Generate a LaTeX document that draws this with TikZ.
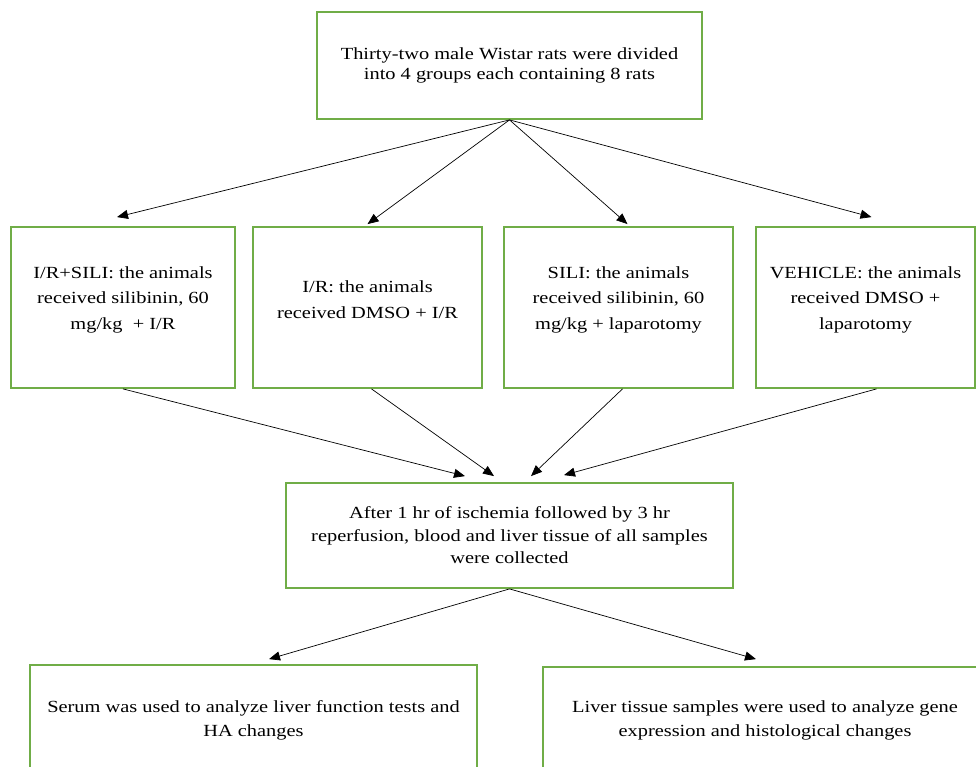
\documentclass[tikz,border=0pt]{standalone}
\usepackage{fontspec}
\setmainfont[FakeStretch=1.2]{Liberation Serif}
\usepackage{xcolor}
\usepackage{tikz}
\usetikzlibrary{arrows.meta}
\definecolor{boxgreen}{HTML}{70AD47}

\begin{document}
\begin{tikzpicture}[x=1pt, y=-1pt,
  box/.style={draw=boxgreen, line width=1.8pt, rectangle, align=center, inner sep=0pt, font=\fontsize{17}{22.5}\selectfont},
  grpbox/.style={box, minimum height=161pt},
  grptext/.style={align=center, inner sep=0pt, yshift=8pt, font=\fontsize{17}{25.5}\selectfont},
  flow/.style={-{Triangle[length=11pt, width=9pt]}, line width=0.7pt}]%
\useasboundingbox (0,0) rectangle (976,767);%
\node[box, minimum width=385pt, minimum height=107pt, font=\fontsize{17}{20}\selectfont] (rats) at (509.5,65.5) {Thirty-two male Wistar rats were divided\\into 4 groups each containing 8 rats};%
\node[grpbox, minimum width=224pt, label={[grptext]center:{I/R+SILI: the animals\\received silibinin, 60\\mg/kg~ + I/R}}] (irsili) at (123,307.5) {};%
\node[grpbox, minimum width=229pt, label={[grptext]center:{I/R: the animals\\received DMSO + I/R}}] (ir) at (367.5,307.5) {};%
\node[grpbox, minimum width=229pt, label={[grptext]center:{SILI: the animals\\received silibinin, 60\\mg/kg + laparotomy}}] (sili) at (618.5,307.5) {};%
\node[grpbox, minimum width=219pt, label={[grptext]center:{VEHICLE: the animals\\received DMSO +\\laparotomy}}] (vehicle) at (865.5,307.5) {};%
\node[box, minimum width=447pt, minimum height=105pt] (collect) at (509.5,535.5) {After 1 hr of ischemia followed by 3 hr\\reperfusion, blood and liver tissue of all samples\\were collected};%
\node[box, minimum width=447pt, minimum height=110pt, font=\fontsize{17}{24}\selectfont] (serum) at (253.5,720) {Serum was used to analyze liver function tests and\\HA changes};%
\node[box, minimum width=444pt, minimum height=106pt, font=\fontsize{17}{24}\selectfont] (tissue) at (765,720) {Liver tissue samples were used to analyze gene\\expression and histological changes};%
\draw[flow] (rats.south) -- ([shift={(-6,-9)}]irsili.north);%
\draw[flow] (rats.south) -- ([shift={(0,-2)}]ir.north);%
\draw[flow] (rats.south) -- ([shift={(9,-2)}]sili.north);%
\draw[flow] (rats.south) -- ([shift={(6,-9)}]vehicle.north);%
\draw[flow] (irsili.south) -- ([shift={(-44.5,-6)}]collect.north);%
\draw[flow] ([xshift=4pt]ir.south) -- ([shift={(-15.5,-6)}]collect.north);%
\draw[flow] ([xshift=4pt]sili.south) -- ([shift={(21.5,-6)}]collect.north);%
\draw[flow] ([xshift=11pt]vehicle.south) -- ([shift={(54.5,-7)}]collect.north);%
\draw[flow] (collect.south) -- ([shift={(15.5,-5)}]serum.north);%
\draw[flow] (collect.south) -- ([shift={(-9,-7)}]tissue.north);%
\end{tikzpicture}
\end{document}
